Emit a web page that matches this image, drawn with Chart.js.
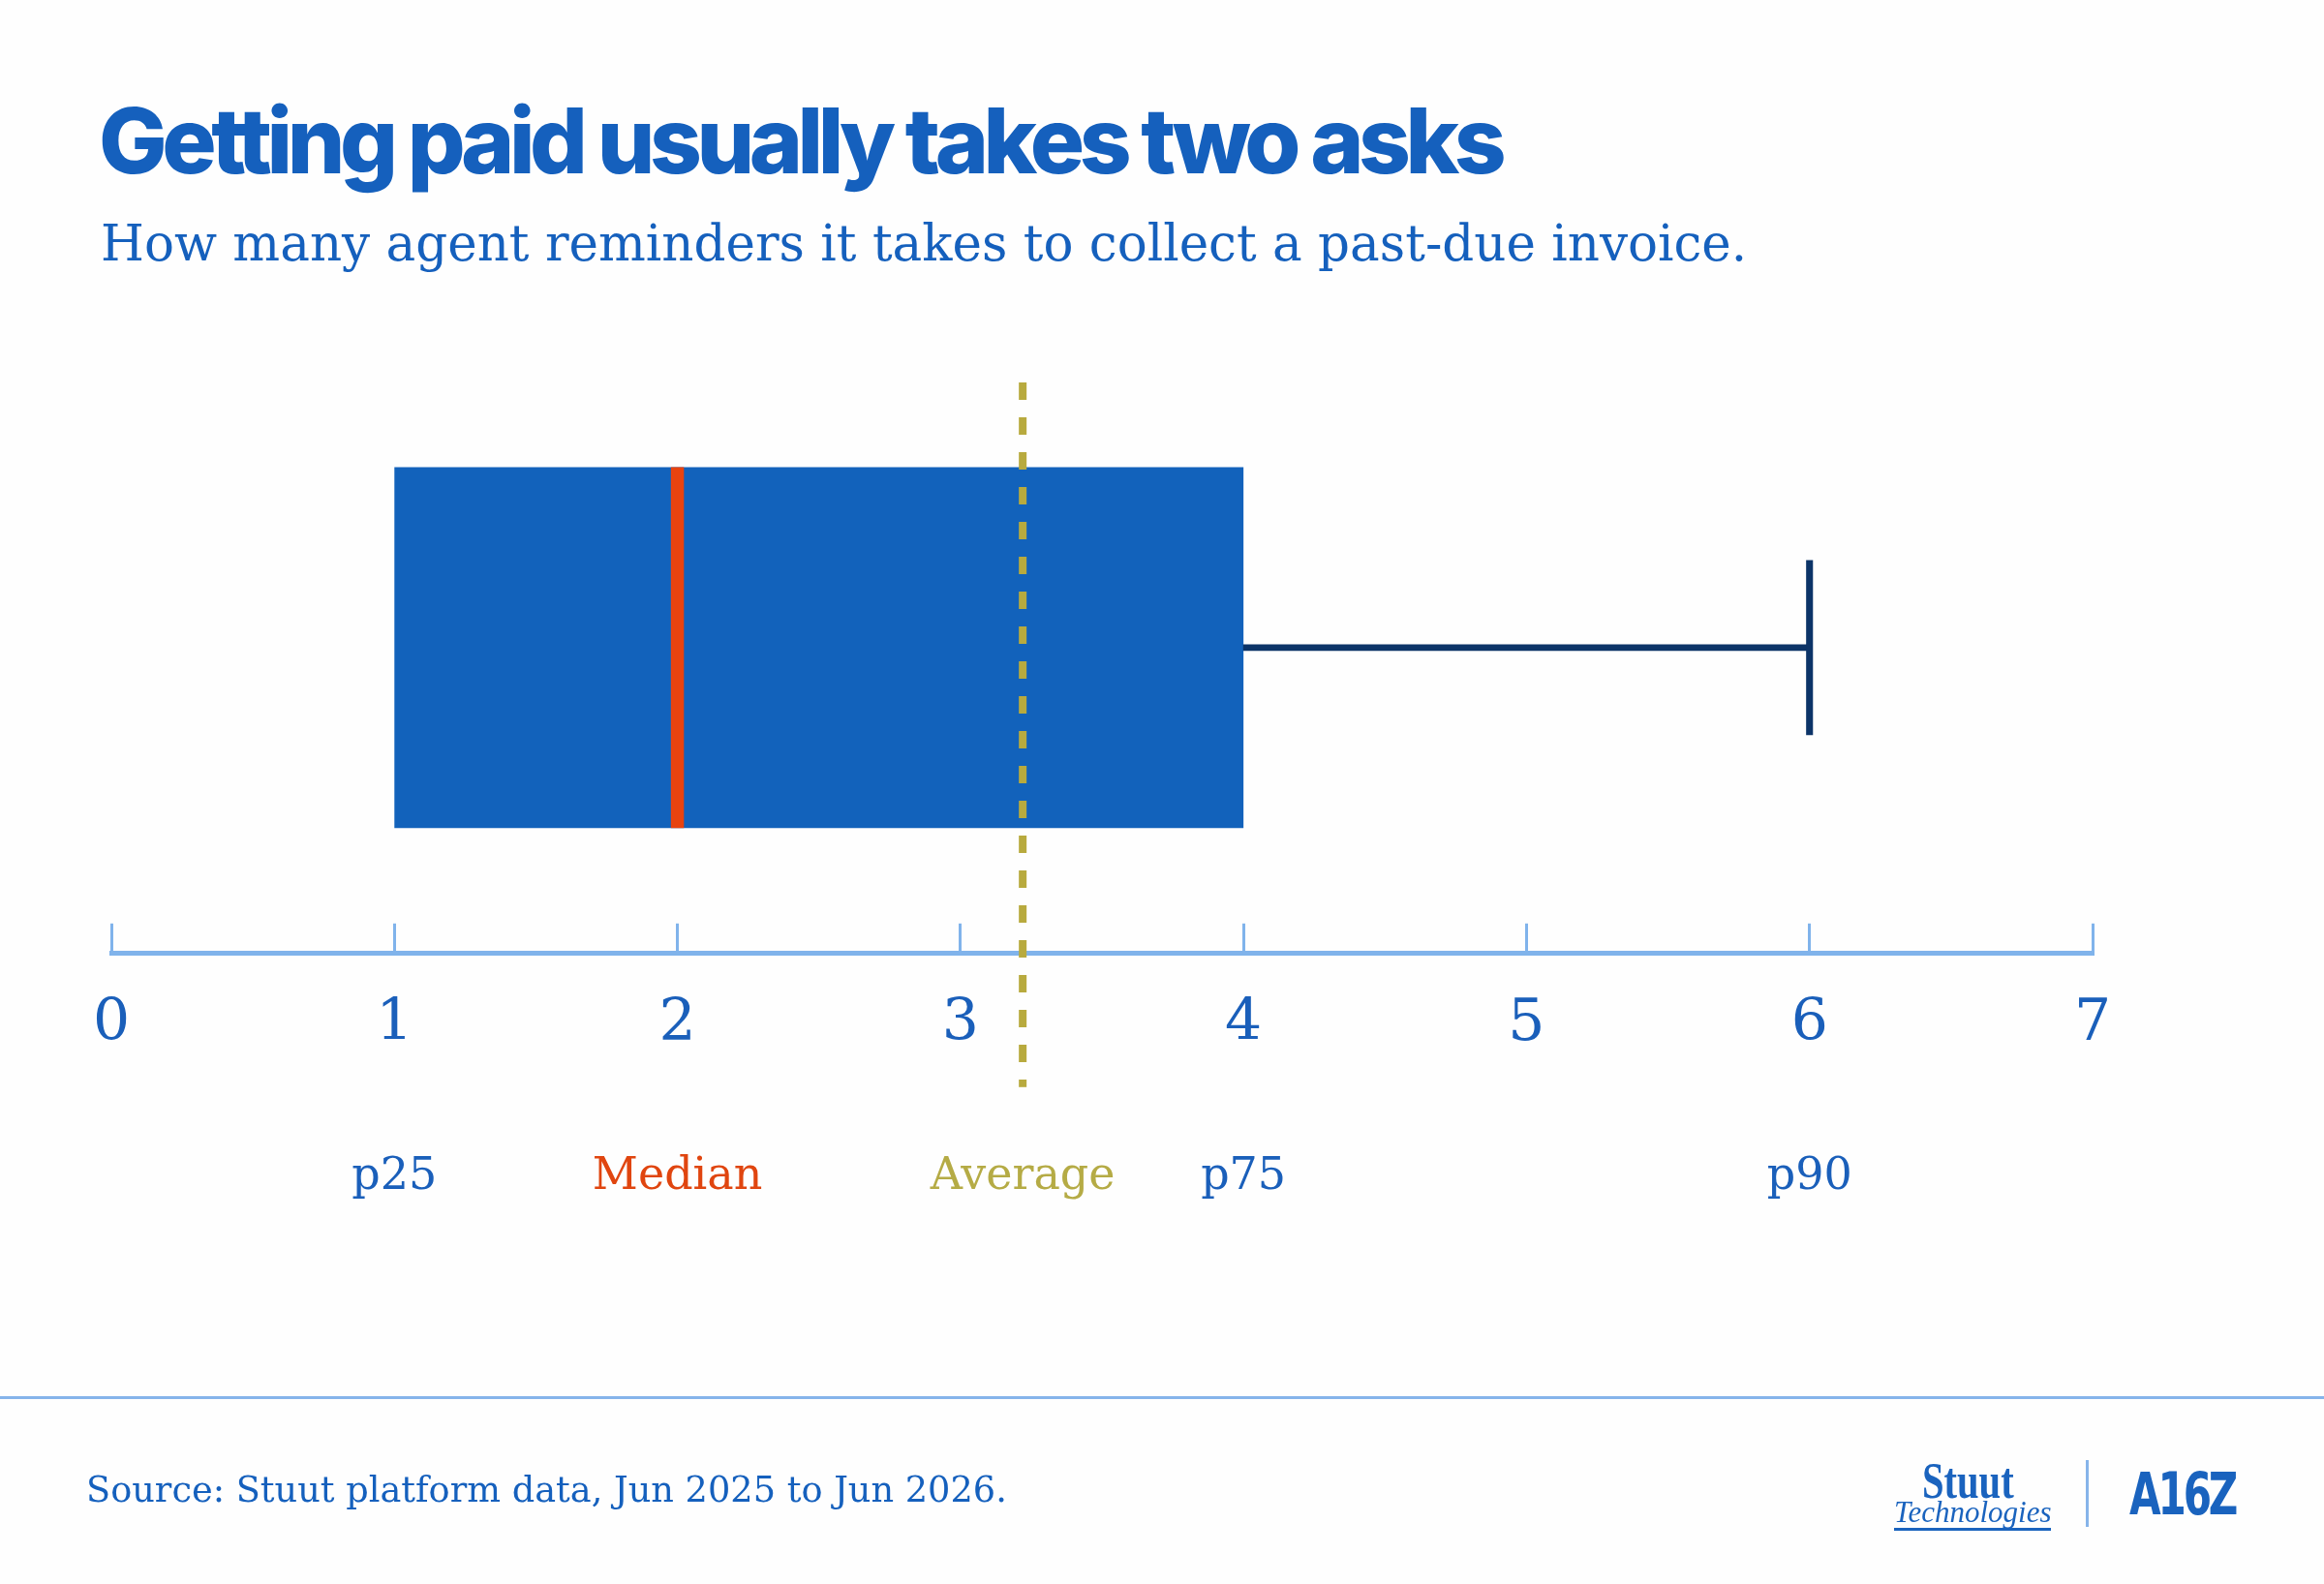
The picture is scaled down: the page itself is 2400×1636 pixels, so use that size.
<!DOCTYPE html>
<html>
<head>
<meta charset="utf-8">
<script src="https://cdn.jsdelivr.net/npm/chart.js@4.4.1/dist/chart.umd.min.js"></script>
<style>
  html, body { margin: 0; padding: 0; background: #fefefe; }
  #page { position: relative; width: 2400px; height: 1636px; overflow: hidden; background: #fefefe; }
  #chart { position: absolute; left: 0; top: 0; }
  .txt { position: absolute; white-space: nowrap; line-height: 1; }
  #title { left: 102px; top: 98px; font-family: Inter, sans-serif; font-weight: 800; font-size: 94px; letter-spacing: -0.058em; color: #1560bd; }
  #subtitle { left: 104px; top: 226px; font-family: "DejaVu Serif", serif; font-size: 51.5px; color: #1560bd; }
  #rule { position: absolute; left: 0; top: 1442px; width: 2400px; height: 3px; background: #86b4ea; }
  #source { left: 89px; top: 1521px; font-family: "DejaVu Serif", serif; font-size: 36.7px; color: #1560bd; }
  #stuut { left: 1985px; top: 1504px; font-family: "Liberation Serif", serif; font-weight: bold; font-size: 52px; color: #1a63be; transform: scaleX(0.78); transform-origin: 0 0; }
  #tech { left: 1956px; top: 1546px; font-family: "Liberation Serif", serif; font-style: italic; font-size: 31px; color: #1a63be; border-bottom: 3px solid #1a63be; padding-bottom: 1px; }
  #divider { position: absolute; left: 2154px; top: 1508px; width: 3px; height: 69px; background: #86b4ea; }
  #a16z { left: 2199px; top: 1513px; font-family: "DejaVu Sans Condensed", "DejaVu Sans", sans-serif; font-weight: bold; font-size: 60px; letter-spacing: -4px; color: #1a63be; transform: scaleX(0.78); transform-origin: 0 0; }
</style>
</head>
<body>
<div id="page">
  <canvas id="chart" width="2400" height="1636"></canvas>
  <div class="txt" id="title">Getting paid usually takes two asks</div>
  <div class="txt" id="subtitle">How many agent reminders it takes to collect a past-due invoice.</div>
  <div id="rule"></div>
  <div class="txt" id="source">Source: Stuut platform data, Jun 2025 to Jun 2026.</div>
  <div class="txt" id="stuut">Stuut</div>
  <div class="txt" id="tech">Technologies</div>
  <div id="divider"></div>
  <div class="txt" id="a16z">A16Z</div>
</div>
<script>
// values (agent reminders)
const category = ['Reminders'];
const statNames = ['p25', 'Median', 'Average', 'p75', 'p90'];
const statValues = [1, 2, 3.22, 4, 6];
const xTicks = [0, 1, 2, 3, 4, 5, 6, 7];

const p25 = statValues[0], median = statValues[1], average = statValues[2], p75 = statValues[3], p90 = statValues[4];

const BLUE = '#1262bb';
const TEXT_BLUE = '#1a5fba';
const ORANGE = '#e8430f';
const OLIVE = '#b8aa3e';
const NAVY = '#0c3468';
const AXIS = '#80b3eb';
const statColors = [TEXT_BLUE, '#e0450f', '#b5ab45', TEXT_BLUE, TEXT_BLUE];

const medianHalf = 0.023;  // half width of the median stroke, in x units
const capHalf = 0.011;

// dashed line for the average, drawn through the x scale
const averageLine = {
  id: 'averageLine',
  afterDatasetsDraw(chart) {
    const { ctx, chartArea, scales } = chart;
    const x = scales.x.getPixelForValue(average);
    ctx.save();
    ctx.strokeStyle = OLIVE;
    ctx.lineWidth = 8;
    ctx.setLineDash([18, 18]);
    ctx.beginPath();
    ctx.moveTo(x, chartArea.top + 42);
    ctx.lineTo(x, chartArea.bottom + 138);
    ctx.stroke();
    ctx.restore();
  }
};

new Chart(document.getElementById('chart'), {
  type: 'bar',
  data: {
    labels: category,
    datasets: [
      { label: 'Median', data: [[median - medianHalf, median + medianHalf]], backgroundColor: ORANGE,
        barPercentage: 0.59, categoryPercentage: 1, order: 0 },
      { label: 'p90 cap', data: [[p90 - capHalf, p90 + capHalf]], backgroundColor: NAVY,
        barThickness: 180, order: 1 },
      { label: 'Whisker', data: [[p75, p90]], backgroundColor: NAVY,
        barThickness: 6, order: 2 },
      { label: 'p25 to p75', data: [[p25, p75]], backgroundColor: BLUE,
        barPercentage: 0.59, categoryPercentage: 1, order: 3 }
    ]
  },
  options: {
    indexAxis: 'y',
    responsive: false,
    animation: false,
    devicePixelRatio: 1,
    datasets: { bar: { grouped: false, borderWidth: 0, borderSkipped: false } },
    layout: { padding: { left: 115, right: 239, top: 353, bottom: 375 } },
    plugins: { legend: { display: false }, tooltip: { enabled: false } },
    scales: {
      y: { type: 'category', display: false },
      x: {
        type: 'linear', position: 'bottom', min: xTicks[0], max: xTicks[xTicks.length - 1], weight: 0,
        afterBuildTicks: s => { s.ticks = xTicks.map(v => ({ value: v })); },
        grid: { drawOnChartArea: false, drawTicks: true, tickLength: -31, tickWidth: 3, color: AXIS },
        border: { display: true, width: 5, color: AXIS },
        ticks: { color: TEXT_BLUE, padding: 69, font: { family: 'DejaVu Serif', size: 60 }, maxRotation: 0, autoSkip: false }
      },
      x2: {
        type: 'linear', position: 'bottom', min: xTicks[0], max: xTicks[xTicks.length - 1], weight: 1,
        afterBuildTicks: s => { s.ticks = statValues.map(v => ({ value: v })); },
        grid: { display: false },
        border: { display: false },
        ticks: {
          padding: 17, autoSkip: false, maxRotation: 0,
          font: { family: 'DejaVu Serif', size: 46 },
          color: c => statColors[c.index],
          callback: (v, i) => statNames[i]
        }
      }
    }
  },
  plugins: [averageLine]
});
</script>
</body>
</html>
